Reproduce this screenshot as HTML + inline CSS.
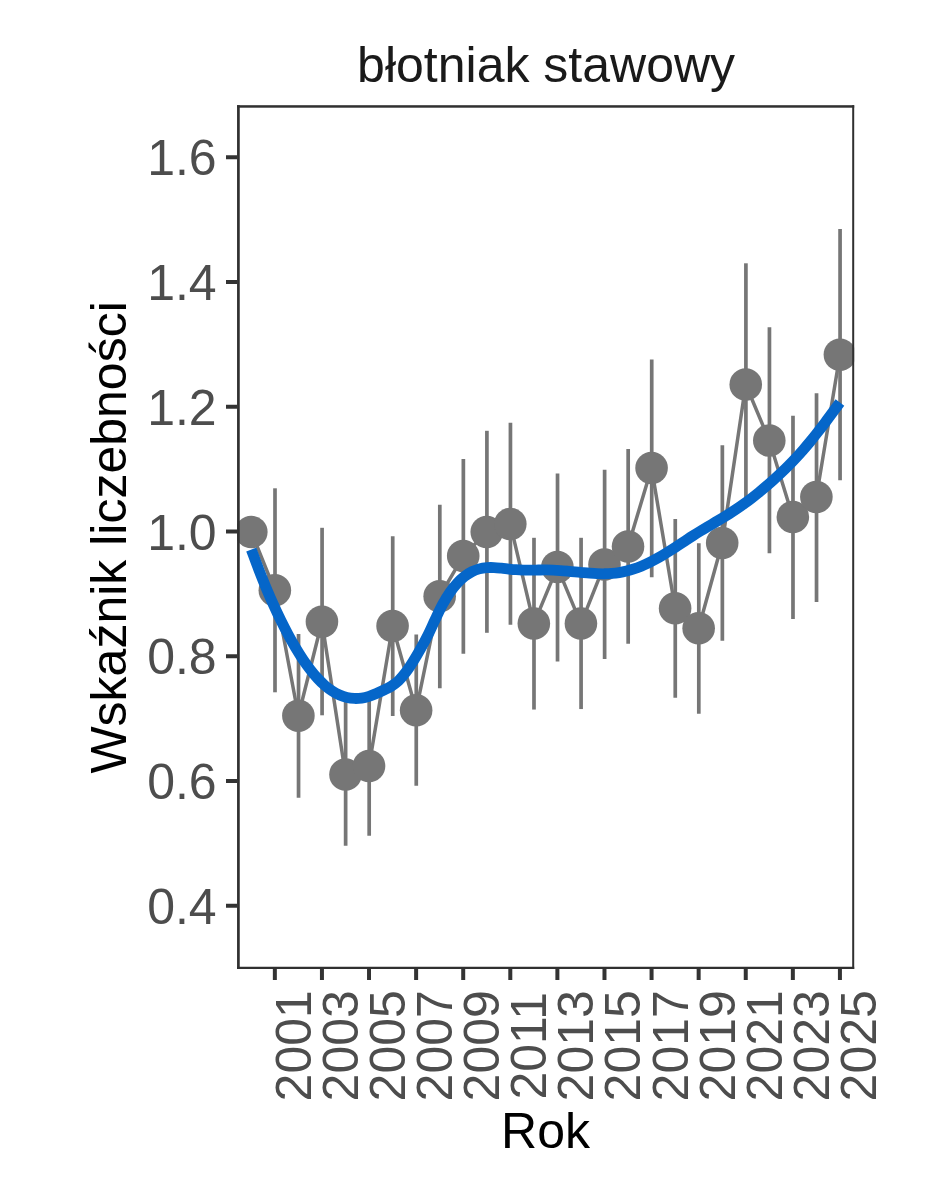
<!DOCTYPE html>
<html lang="pl">
<head>
<meta charset="utf-8">
<title>błotniak stawowy</title>
<style>
html,body{margin:0;padding:0;background:#fff;}
body{width:944px;height:1181px;overflow:hidden;}
svg{display:block;}
text{font-family:"Liberation Sans",sans-serif;font-size:50px;}
.ax{fill:#4d4d4d;}
.ti{fill:#1a1a1a;}
.lab{fill:#000;}
</style>
</head>
<body>
<svg width="944" height="1181" viewBox="0 0 944 1181">
<rect x="0" y="0" width="944" height="1181" fill="#ffffff"/>
<defs><clipPath id="panel"><rect x="237.05" y="105.20" width="617.15" height="863.80"/></clipPath></defs>

<g clip-path="url(#panel)">
<g stroke="#767676" stroke-width="3.7" fill="none">
<line x1="275.00" y1="488.30" x2="275.00" y2="692.30"/>
<line x1="298.54" y1="633.90" x2="298.54" y2="797.80"/>
<line x1="322.08" y1="527.80" x2="322.08" y2="715.30"/>
<line x1="345.63" y1="700.30" x2="345.63" y2="845.80"/>
<line x1="369.18" y1="693.30" x2="369.18" y2="835.80"/>
<line x1="392.72" y1="536.30" x2="392.72" y2="716.05"/>
<line x1="416.26" y1="634.55" x2="416.26" y2="785.80"/>
<line x1="439.81" y1="504.80" x2="439.81" y2="688.30"/>
<line x1="463.36" y1="459.05" x2="463.36" y2="653.80"/>
<line x1="486.90" y1="430.80" x2="486.90" y2="632.80"/>
<line x1="510.44" y1="422.80" x2="510.44" y2="624.80"/>
<line x1="533.99" y1="537.80" x2="533.99" y2="709.55"/>
<line x1="557.53" y1="473.55" x2="557.53" y2="661.55"/>
<line x1="581.08" y1="537.80" x2="581.08" y2="709.05"/>
<line x1="604.62" y1="469.80" x2="604.62" y2="659.05"/>
<line x1="628.17" y1="449.05" x2="628.17" y2="643.80"/>
<line x1="651.72" y1="359.55" x2="651.72" y2="577.30"/>
<line x1="675.26" y1="519.05" x2="675.26" y2="697.80"/>
<line x1="698.80" y1="543.30" x2="698.80" y2="713.80"/>
<line x1="722.35" y1="445.30" x2="722.35" y2="640.80"/>
<line x1="745.90" y1="263.30" x2="745.90" y2="498.30"/>
<line x1="769.44" y1="327.30" x2="769.44" y2="553.30"/>
<line x1="792.99" y1="415.80" x2="792.99" y2="619.05"/>
<line x1="816.53" y1="393.30" x2="816.53" y2="602.05"/>
<line x1="840.07" y1="229.05" x2="840.07" y2="480.30"/>
</g>
<path d="M251.30 532.05 L274.85 590.30 L298.39 715.80 L321.94 621.80 L345.48 774.45 L369.03 766.05 L392.57 626.05 L416.12 710.30 L439.66 596.30 L463.21 556.05 L486.75 532.05 L510.30 524.05 L533.84 623.55 L557.38 567.05 L580.93 623.55 L604.48 564.55 L628.02 546.55 L651.57 468.05 L675.11 608.30 L698.65 628.30 L722.20 543.05 L745.75 384.55 L769.29 440.50 L792.84 517.05 L816.38 497.05 L839.92 354.80" stroke="#767676" stroke-width="3.5" fill="none" stroke-linejoin="round"/>
<g fill="#767676">
<circle cx="251.30" cy="532.05" r="16.3"/>
<circle cx="274.85" cy="590.30" r="16.3"/>
<circle cx="298.39" cy="715.80" r="16.3"/>
<circle cx="321.94" cy="621.80" r="16.3"/>
<circle cx="345.48" cy="774.45" r="16.3"/>
<circle cx="369.03" cy="766.05" r="16.3"/>
<circle cx="392.57" cy="626.05" r="16.3"/>
<circle cx="416.12" cy="710.30" r="16.3"/>
<circle cx="439.66" cy="596.30" r="16.3"/>
<circle cx="463.21" cy="556.05" r="16.3"/>
<circle cx="486.75" cy="532.05" r="16.3"/>
<circle cx="510.30" cy="524.05" r="16.3"/>
<circle cx="533.84" cy="623.55" r="16.3"/>
<circle cx="557.38" cy="567.05" r="16.3"/>
<circle cx="580.93" cy="623.55" r="16.3"/>
<circle cx="604.48" cy="564.55" r="16.3"/>
<circle cx="628.02" cy="546.55" r="16.3"/>
<circle cx="651.57" cy="468.05" r="16.3"/>
<circle cx="675.11" cy="608.30" r="16.3"/>
<circle cx="698.65" cy="628.30" r="16.3"/>
<circle cx="722.20" cy="543.05" r="16.3"/>
<circle cx="745.75" cy="384.55" r="16.3"/>
<circle cx="769.29" cy="440.50" r="16.3"/>
<circle cx="792.84" cy="517.05" r="16.3"/>
<circle cx="816.38" cy="497.05" r="16.3"/>
<circle cx="839.92" cy="354.80" r="16.3"/>
</g>
<path d="M251.30 549.60 C252.53 552.88 256.21 562.94 258.66 569.27 C261.11 575.60 263.56 581.70 266.01 587.58 C268.47 593.46 270.92 599.12 273.37 604.56 C275.82 609.99 278.28 615.21 280.73 620.20 C283.18 625.20 285.63 629.98 288.09 634.54 C290.54 639.10 292.99 643.45 295.44 647.57 C297.90 651.68 300.35 655.59 302.80 659.25 C305.25 662.91 307.71 666.34 310.16 669.51 C312.61 672.69 315.06 675.62 317.52 678.28 C319.97 680.94 322.42 683.35 324.88 685.48 C327.33 687.61 329.78 689.46 332.23 691.05 C334.69 692.64 337.14 693.95 339.59 695.02 C342.04 696.09 344.50 696.90 346.95 697.47 C349.40 698.05 351.85 698.36 354.31 698.46 C356.76 698.56 359.21 698.42 361.66 698.06 C364.12 697.71 366.57 697.10 369.02 696.35 C371.47 695.60 373.93 694.61 376.38 693.58 C378.83 692.55 381.28 691.38 383.74 690.17 C386.19 688.96 388.64 687.87 391.09 686.32 C393.54 684.77 396.00 683.18 398.45 680.86 C400.90 678.53 403.36 675.60 405.81 672.36 C408.26 669.12 410.71 665.31 413.16 661.41 C415.62 657.52 418.07 653.36 420.52 648.98 C422.97 644.60 425.43 640.08 427.88 635.15 C430.33 630.22 432.78 624.53 435.24 619.42 C437.69 614.30 440.14 608.95 442.60 604.44 C445.05 599.94 447.50 595.94 449.95 592.38 C452.40 588.82 454.86 585.77 457.31 583.08 C459.76 580.39 462.22 578.16 464.67 576.24 C467.12 574.33 469.57 572.84 472.02 571.61 C474.48 570.38 476.93 569.53 479.38 568.88 C481.83 568.22 484.29 567.89 486.74 567.68 C489.19 567.46 491.64 567.50 494.10 567.58 C496.55 567.66 499.00 567.93 501.45 568.17 C503.91 568.41 506.36 568.76 508.81 569.02 C511.26 569.28 513.72 569.54 516.17 569.71 C518.62 569.89 521.07 569.98 523.53 570.05 C525.98 570.11 528.43 570.11 530.88 570.11 C533.34 570.11 535.79 570.05 538.24 570.02 C540.69 570.00 543.15 569.94 545.60 569.96 C548.05 569.98 550.50 570.04 552.96 570.14 C555.41 570.25 557.86 570.41 560.32 570.59 C562.77 570.76 565.22 570.98 567.67 571.20 C570.12 571.43 572.58 571.68 575.03 571.91 C577.48 572.15 579.94 572.40 582.39 572.61 C584.84 572.83 587.29 573.06 589.74 573.23 C592.20 573.40 594.65 573.56 597.10 573.65 C599.55 573.74 602.01 573.80 604.46 573.77 C606.91 573.74 609.36 573.65 611.82 573.46 C614.27 573.27 616.72 573.00 619.17 572.61 C621.63 572.22 624.08 571.72 626.53 571.11 C628.99 570.49 631.44 569.76 633.89 568.93 C636.34 568.11 638.79 567.17 641.25 566.15 C643.70 565.13 646.15 564.01 648.61 562.82 C651.06 561.63 653.51 560.36 655.96 559.02 C658.41 557.68 660.87 556.26 663.32 554.80 C665.77 553.33 668.23 551.80 670.68 550.24 C673.13 548.69 675.58 547.08 678.03 545.48 C680.49 543.89 682.94 542.25 685.39 540.65 C687.84 539.05 690.30 537.43 692.75 535.87 C695.20 534.30 697.65 532.77 700.11 531.26 C702.56 529.76 705.01 528.31 707.46 526.85 C709.92 525.39 712.37 523.97 714.82 522.51 C717.27 521.06 719.73 519.62 722.18 518.14 C724.63 516.66 727.08 515.17 729.54 513.62 C731.99 512.07 734.44 510.48 736.89 508.83 C739.35 507.17 741.80 505.46 744.25 503.69 C746.70 501.91 749.16 500.08 751.61 498.19 C754.06 496.30 756.51 494.36 758.97 492.36 C761.42 490.36 763.87 488.30 766.33 486.20 C768.78 484.09 771.23 481.94 773.68 479.73 C776.13 477.51 778.59 475.26 781.04 472.92 C783.49 470.59 785.95 468.20 788.40 465.73 C790.85 463.26 793.30 460.72 795.75 458.09 C798.21 455.46 800.66 452.75 803.11 449.94 C805.56 447.13 808.02 444.22 810.47 441.24 C812.92 438.25 815.37 435.16 817.83 432.03 C820.28 428.89 822.73 425.67 825.18 422.42 C827.64 419.17 830.09 415.85 832.54 412.53 C835.00 409.20 838.67 404.14 839.90 402.47" stroke="#0566C9" stroke-width="10.8" fill="none" stroke-linejoin="round" stroke-linecap="butt"/>
</g>
<g fill="#303030">
<rect x="237.05" y="105.2" width="2.7" height="863.8"/>
<rect x="852.2" y="105.2" width="2.0" height="863.8"/>
<rect x="237.05" y="105.2" width="617.15" height="2.5"/>
<rect x="237.05" y="966.75" width="617.15" height="2.25"/>
</g>
<g stroke="#333333" stroke-width="4">
<line x1="226" y1="905.75" x2="237.05" y2="905.75"/>
<line x1="226" y1="781.00" x2="237.05" y2="781.00"/>
<line x1="226" y1="656.25" x2="237.05" y2="656.25"/>
<line x1="226" y1="531.50" x2="237.05" y2="531.50"/>
<line x1="226" y1="406.75" x2="237.05" y2="406.75"/>
<line x1="226" y1="282.00" x2="237.05" y2="282.00"/>
<line x1="226" y1="157.25" x2="237.05" y2="157.25"/>
<line x1="274.85" y1="969.00" x2="274.85" y2="980"/>
<line x1="321.94" y1="969.00" x2="321.94" y2="980"/>
<line x1="369.03" y1="969.00" x2="369.03" y2="980"/>
<line x1="416.12" y1="969.00" x2="416.12" y2="980"/>
<line x1="463.21" y1="969.00" x2="463.21" y2="980"/>
<line x1="510.30" y1="969.00" x2="510.30" y2="980"/>
<line x1="557.38" y1="969.00" x2="557.38" y2="980"/>
<line x1="604.48" y1="969.00" x2="604.48" y2="980"/>
<line x1="651.57" y1="969.00" x2="651.57" y2="980"/>
<line x1="698.65" y1="969.00" x2="698.65" y2="980"/>
<line x1="745.75" y1="969.00" x2="745.75" y2="980"/>
<line x1="792.84" y1="969.00" x2="792.84" y2="980"/>
<line x1="839.92" y1="969.00" x2="839.92" y2="980"/>
</g>
<g class="ax" text-anchor="end">
<text x="216.7" y="923.90">0.4</text>
<text x="216.7" y="799.15">0.6</text>
<text x="216.7" y="674.40">0.8</text>
<text x="216.7" y="549.65">1.0</text>
<text x="216.7" y="424.90">1.2</text>
<text x="216.7" y="300.15">1.4</text>
<text x="216.7" y="175.40">1.6</text>
</g>
<g class="ax" text-anchor="middle">
<text transform="translate(310.85 1045.8) rotate(-90)">2001</text>
<text transform="translate(357.94 1045.8) rotate(-90)">2003</text>
<text transform="translate(405.03 1045.8) rotate(-90)">2005</text>
<text transform="translate(452.12 1045.8) rotate(-90)">2007</text>
<text transform="translate(499.21 1045.8) rotate(-90)">2009</text>
<text transform="translate(546.30 1045.8) rotate(-90)">2011</text>
<text transform="translate(593.38 1045.8) rotate(-90)">2013</text>
<text transform="translate(640.48 1045.8) rotate(-90)">2015</text>
<text transform="translate(687.57 1045.8) rotate(-90)">2017</text>
<text transform="translate(734.65 1045.8) rotate(-90)">2019</text>
<text transform="translate(781.75 1045.8) rotate(-90)">2021</text>
<text transform="translate(828.84 1045.8) rotate(-90)">2023</text>
<text transform="translate(875.92 1045.8) rotate(-90)">2025</text>
</g>
<text class="ti" x="546.1" y="82.1" text-anchor="middle">błotniak stawowy</text>
<text class="lab" x="545.5" y="1147.8" text-anchor="middle">Rok</text>
<text class="lab" transform="translate(126 537.4) rotate(-90)" text-anchor="middle">Wskaźnik liczebności</text>
</svg>
</body>
</html>
